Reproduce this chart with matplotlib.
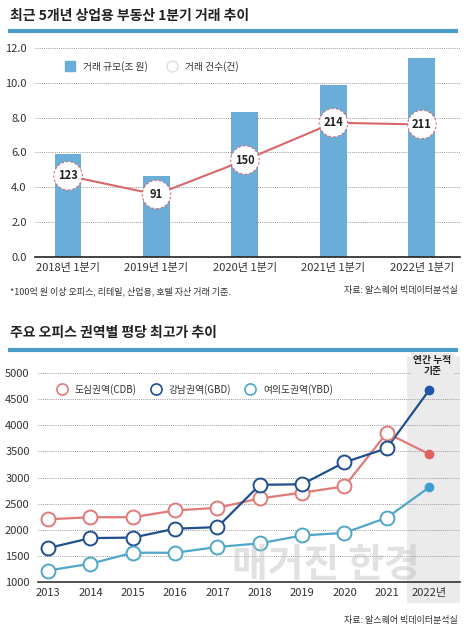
import matplotlib
matplotlib.use("Agg")
import matplotlib.pyplot as plt
from matplotlib.lines import Line2D
from matplotlib.transforms import blended_transform_factory
from matplotlib.patches import Rectangle

plt.rcParams['font.family'] = ['Noto Sans CJK KR', 'DejaVu Sans']

# ---- data: chart 1 ----
quarters = ["2018년 1분기", "2019년 1분기", "2020년 1분기", "2021년 1분기", "2022년 1분기"]
deal_size = [5.9, 4.65, 8.3, 9.85, 11.45]   # 조 원
deal_count = [123, 91, 150, 214, 211]       # 건
y1_ticks = [0.0, 2.0, 4.0, 6.0, 8.0, 10.0, 12.0]

# ---- data: chart 2 ----
years = [2013, 2014, 2015, 2016, 2017, 2018, 2019, 2020, 2021, 2022]
year_labels = ["2013", "2014", "2015", "2016", "2017", "2018", "2019", "2020", "2021", "2022년"]
cdb = [2200, 2240, 2240, 2370, 2420, 2600, 2710, 2830, 3850, 3450]
gbd = [1650, 1840, 1850, 2020, 2050, 2860, 2870, 3290, 3560, 4670]
ybd = [1220, 1350, 1560, 1560, 1670, 1740, 1890, 1940, 2230, 2810]
y2_ticks = [1000, 1500, 2000, 2500, 3000, 3500, 4000, 4500, 5000]

W, H = 470, 633
fig = plt.figure(figsize=(W / 100, H / 100), dpi=100)

def fx(px): return px / W
def fy(py): return 1 - py / H

bar_color = "#6aadd9"
line_red = "#d9676a"
rule_color = "#4a9dc9"
grid_kw = dict(color="#9a9a9a", linestyle=(0, (1, 1.2)), linewidth=0.7)
tick_color = "#333333"

# ---- titles and rules ----
fig.text(fx(10), fy(16), "최근 5개년 상업용 부동산 1분기 거래 추이", fontsize=10, fontweight="bold",
         color="#222222", va="center", ha="left")
fig.add_artist(Line2D([fx(10), fx(456)], [fy(31), fy(31)], color=rule_color, linewidth=3))
fig.text(fx(10), fy(333), "주요 오피스 권역별 평당 최고가 추이", fontsize=10, fontweight="bold",
         color="#222222", va="center", ha="left")
fig.add_artist(Line2D([fx(10), fx(456)], [fy(350), fy(350)], color=rule_color, linewidth=3))

# ---- chart 1 ----
ax1 = fig.add_axes([fx(35), fy(257), fx(425), 209 / H])
x = list(range(len(quarters)))
ax1.bar(x, deal_size, width=0.305, color=bar_color, zorder=2)
ax1.set_ylim(0, 12)
ax1.set_xlim(-0.373, 4.43)
ax1.set_yticks(y1_ticks)
ax1.set_yticklabels([f"{v:.1f}" for v in y1_ticks])
ax1.set_xticks(x)
ax1.set_xticklabels(quarters)
ax1.yaxis.grid(True, **grid_kw)
ax1.set_axisbelow(True)
for s in ["top", "right", "left"]:
    ax1.spines[s].set_visible(False)
ax1.spines["bottom"].set_color("#222222")
ax1.spines["bottom"].set_linewidth(1.2)
ax1.tick_params(axis="both", length=0, labelsize=8, colors=tick_color)
ax1.tick_params(axis="y", pad=6)
ax1.tick_params(axis="x", pad=4)

ax1b = ax1.twinx()
ax1b.set_ylim(-16, 342)
ax1b.axis("off")
ax1b.plot(x, deal_count, color=line_red, linewidth=1.5, zorder=3)
ax1b.scatter(x, deal_count, s=420, facecolor="white", edgecolor=line_red, linewidths=0.8,
             linestyle=(0, (2, 2)), zorder=4)
for xi, c in zip(x, deal_count):
    ax1b.text(xi, c, str(c), ha="center", va="center", fontsize=8, fontweight="bold",
              color="#222222", zorder=5)

# legend chart 1
ax1.legend(handles=[
    Line2D([], [], marker="s", linestyle="none", markersize=7, markerfacecolor=bar_color,
           markeredgecolor=bar_color, label="거래 규모(조 원)"),
    Line2D([], [], marker="o", linestyle="none", markersize=8, markerfacecolor="white",
           markeredgecolor="#dddddd", label="거래 건수(건)")],
    loc="upper left", bbox_to_anchor=(0.04, 0.98), ncol=2, frameon=False, fontsize=7,
    handletextpad=0.3, columnspacing=1.5, labelcolor="#333333")

fig.text(fx(10), fy(291), "*100억 원 이상 오피스, 리테일, 산업용, 호텔 자산 거래 기준.", fontsize=6.5,
         color="#333333", va="center", ha="left")
fig.text(fx(458), fy(291), "자료: 알스퀘어 빅데이터분석실", fontsize=6.5,
         color="#333333", va="center", ha="right")

# ---- chart 2 ----
ax2 = fig.add_axes([fx(38), fy(582), fx(422), 209 / H])
ax2.set_xlim(2012.76, 2022.73)
ax2.set_ylim(1000, 5000)
ax2.set_yticks(y2_ticks)
ax2.set_xticks(years)
ax2.set_xticklabels(year_labels)
ax2.yaxis.grid(True, **grid_kw)
ax2.set_axisbelow(True)
for s in ["top", "right", "left"]:
    ax2.spines[s].set_visible(False)
ax2.spines["bottom"].set_color("#333333")
ax2.spines["bottom"].set_linewidth(1.2)
ax2.tick_params(axis="both", length=0, labelsize=8, colors=tick_color)
ax2.tick_params(axis="y", pad=6)
ax2.tick_params(axis="x", pad=4)

trans = blended_transform_factory(ax2.transData, ax2.transAxes)
ax2.add_patch(Rectangle((2021.48, -0.10), 2022.73 - 2021.48, 1.177, transform=trans,
                        facecolor="#ebebeb", edgecolor="none", clip_on=False, zorder=0))
ax2.text(2022.08, 1.035, "연간 누적\n기준", transform=trans, ha="center", va="center",
         fontsize=7, fontweight="bold", color="#222222", linespacing=1.2,
         bbox=dict(facecolor="#ebebeb", edgecolor="none", pad=1.5))

series = [(cdb, "#e07a78", "#e0605e", "도심권역(CDB)"),
          (gbd, "#1f4f8e", "#1f55a6", "강남권역(GBD)"),
          (ybd, "#4fa6c9", "#3d9fd0", "여의도권역(YBD)")]
handles = []
for vals, col, fcol, lab in series:
    ax2.plot(years, vals, color=col, linewidth=1.6, zorder=3)
    ax2.plot(years[:-1], vals[:-1], linestyle="none", marker="o", markersize=10,
             markerfacecolor="white", markeredgecolor=col, markeredgewidth=1.4, zorder=4)
    ax2.plot(years[-1:], vals[-1:], linestyle="none", marker="o", markersize=6,
             markerfacecolor=fcol, markeredgecolor=fcol, zorder=4)
    handles.append(Line2D([], [], linestyle="none", marker="o", markersize=8,
                          markerfacecolor="white", markeredgecolor=col,
                          markeredgewidth=1.2, label=lab))
leg = ax2.legend(handles=handles, loc="upper left", bbox_to_anchor=(0.015, 0.985), ncol=3,
                 frameon=True, fontsize=7, handletextpad=0.3, columnspacing=1.0,
                 labelcolor="#333333", borderpad=0.3)
leg.get_frame().set_facecolor("white")
leg.get_frame().set_edgecolor("none")
leg.get_frame().set_alpha(1)

fig.text(fx(232), fy(566), "매거진 한경", fontsize=28, color="#bdbdbd", alpha=0.45,
         ha="left", va="center", fontweight="bold")

fig.text(fx(458), fy(620), "자료: 알스퀘어 빅데이터분석실", fontsize=6.5,
         color="#333333", va="center", ha="right")

fig.savefig("out.png", dpi=100, facecolor="white")
